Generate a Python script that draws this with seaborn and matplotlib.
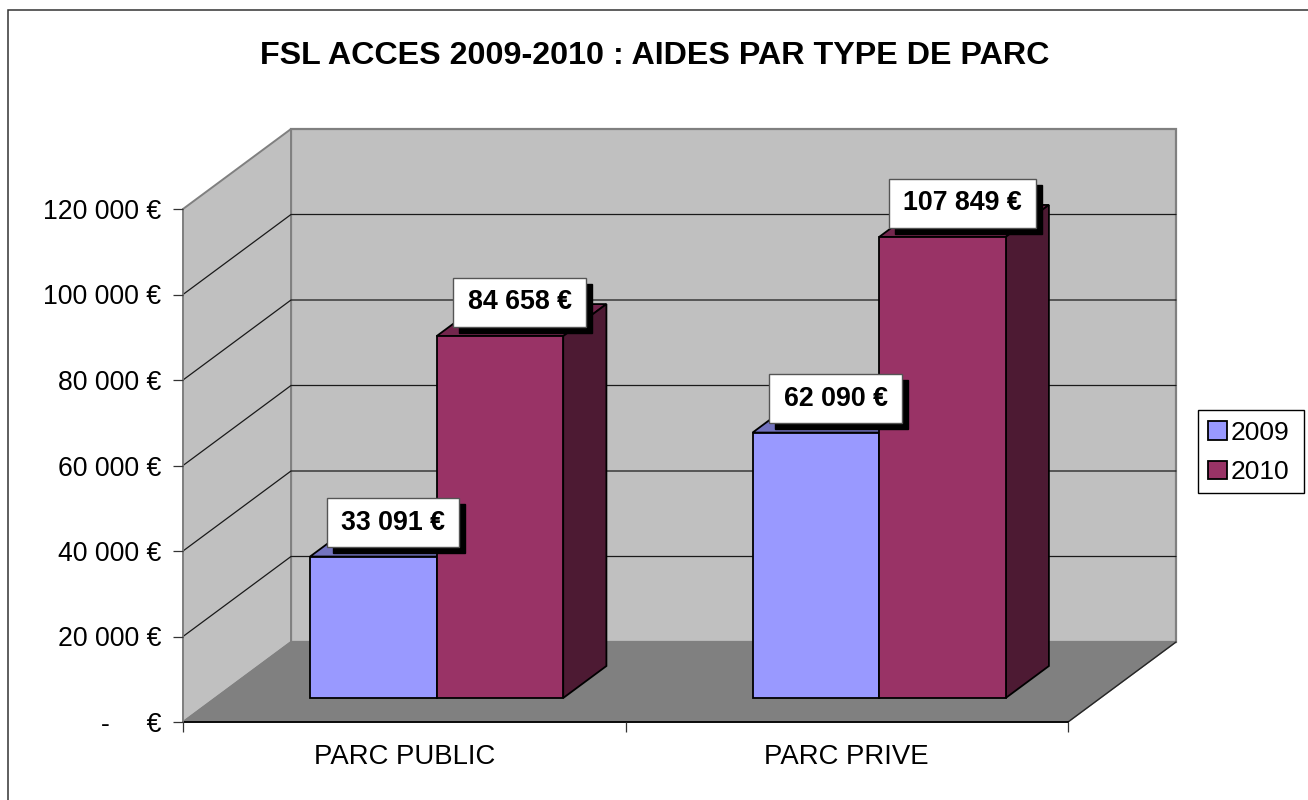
import pandas as pd
import matplotlib.pyplot as plt
import seaborn as sns
from matplotlib.lines import Line2D
from matplotlib.patches import Polygon, Rectangle, Patch
from matplotlib.transforms import IdentityTransform

# Donnees
parcs = ['PARC PUBLIC', 'PARC PRIVE']
annees = ['2009', '2010']
aides_2009 = [33091, 62090]
aides_2010 = [84658, 107849]
graduations = [0, 20000, 40000, 60000, 80000, 100000, 120000]

couleurs = {'2009': '#9999ff', '2010': '#993366'}
dessus = {'2009': '#7373bf', '2010': '#73264d'}
cotes = {'2009': '#4d4d80', '2010': '#4d1a33'}

df = pd.DataFrame({
    'parc': parcs * 2,
    'annee': ['2009'] * 2 + ['2010'] * 2,
    'aide': aides_2009 + aides_2010,
})


def euros(v):
    return f"{v:,}".replace(',', ' ') + ' €'


sns.set_style('white')
plt.rcParams['font.family'] = ['Liberation Sans', 'DejaVu Sans']
plt.rcParams['text.color'] = 'black'
plt.rcParams['xtick.labelcolor'] = 'black'
plt.rcParams['ytick.labelcolor'] = 'black'

W, H = 1308, 800
fig = plt.figure(figsize=(W / 100, H / 100), dpi=100)
ax = fig.add_axes([183 / W, 1 - 722 / H, 885 / W, 513 / H])
ax.set_xlim(-0.5, 1.5)
ax.set_ylim(0, 120000)

# profondeur de la perspective (unites des axes)
prof_x = 108 / 442.5
prof_y = 80 / 513 * 120000


def proj(x, v, d):
    return (x + d * prof_x, v + d * prof_y)


def poly(points, **kw):
    p = Polygon(points, closed=True, clip_on=False, **kw)
    ax.add_patch(p)
    return p


x0, x1 = ax.get_xlim()
ymax = graduations[-1]

# murs et sol
poly([proj(x0, 0, 1), proj(x1, 0, 1), proj(x1, ymax, 1), proj(x0, ymax, 1)],
     facecolor='#c0c0c0', edgecolor='#808080', linewidth=1.6, zorder=0.5)
poly([proj(x0, 0, 0), proj(x0, 0, 1), proj(x0, ymax, 1), proj(x0, ymax, 0)],
     facecolor='#c0c0c0', edgecolor='#808080', linewidth=1.4, zorder=0.6)
poly([proj(x0, 0, 0), proj(x1, 0, 0), proj(x1, 0, 1), proj(x0, 0, 1)],
     facecolor='#808080', edgecolor='#808080', linewidth=1, zorder=0.7)

# quadrillage
for v in graduations[1:-1]:
    a, b, c = proj(x0, v, 0), proj(x0, v, 1), proj(x1, v, 1)
    ax.add_line(Line2D([a[0], b[0], c[0]], [a[1], b[1], c[1]], color='#1a1a1a',
                       linewidth=0.9, zorder=0.8, clip_on=False))
a, b = proj(x1, 0, 0), proj(x1, 0, 1)
ax.add_line(Line2D([a[0], b[0]], [a[1], b[1]], color='#262626', linewidth=1,
                   zorder=0.9, clip_on=False))

# faces avant
sns.barplot(data=df, x='parc', y='aide', hue='annee', hue_order=annees, order=parcs,
            palette=couleurs, width=0.572, gap=0, saturation=1, edgecolor='black',
            linewidth=1.3, legend=False, ax=ax, zorder=3)
ax.set_xlim(x0, x1)
ax.set_ylim(0, ymax)

# decalage des barres dans la profondeur + dessus et cote
d_av, d_ar = 0.3, 0.7
barres = []
for patch, annee, aide in zip(ax.patches[3:], df['annee'], df['aide']):
    g = patch.get_x()
    l = patch.get_width()
    patch.set_x(g + d_av * prof_x)
    patch.set_y(d_av * prof_y)
    patch.set_clip_on(False)
    poly([proj(g, aide, d_av), proj(g + l, aide, d_av), proj(g + l, aide, d_ar), proj(g, aide, d_ar)],
         facecolor=dessus[annee], edgecolor='black', linewidth=1.3, zorder=2)
    poly([proj(g + l, 0, d_av), proj(g + l, 0, d_ar), proj(g + l, aide, d_ar), proj(g + l, aide, d_av)],
         facecolor=cotes[annee], edgecolor='black', linewidth=1.3, zorder=2)
    barres.append((patch, aide))

# axes
sns.despine(ax=ax, top=True, right=True)
ax.set_axisbelow(False)
ax.spines['left'].set_color('#808080')
ax.spines['left'].set_linewidth(1.2)
ax.spines['bottom'].set_color('black')
ax.spines['bottom'].set_linewidth(1.3)
ax.spines['bottom'].set_zorder(1)
ax.set_xlabel('')
ax.set_ylabel('')
ax.set_yticks(graduations)
ax.set_yticklabels(['-     €' if v == 0 else euros(v) for v in graduations])
ax.set_xticks([0, 1])
ax.set_xticklabels(parcs)
ax.set_xticks([-0.5, 0.5, 1.5], minor=True)
ax.tick_params(axis='y', length=7.2, width=0.9, color='#333333', pad=8.5, labelsize=19.2, left=True,
               labelcolor='black')
ax.tick_params(axis='x', which='major', length=0, pad=15.5, labelsize=19.8, bottom=False, labelcolor='black')
ax.tick_params(axis='x', which='minor', length=7.2, width=0.9, color='#333333', bottom=True)

# etiquettes de valeurs
fig.canvas.draw()
for patch, aide in barres:
    cx = patch.get_x() + patch.get_width() / 2
    t = ax.annotate(euros(aide), (cx, aide + d_av * prof_y), xytext=(14.2, 24.3), textcoords='offset points',
                    ha='center', va='center', fontsize=19.3, fontweight='bold', color='black',
                    zorder=6, annotation_clip=False)
    bb = t.get_window_extent(fig.canvas.get_renderer())
    cxp, cyp = (bb.x0 + bb.x1) / 2, (bb.y0 + bb.y1) / 2
    larg, haut = bb.width + 28.5, 49
    for dxy, fc, ec, z in [((6, -6), 'black', 'black', 4.5), ((0, 0), 'white', '#555555', 5)]:
        ax.add_patch(Rectangle((cxp - larg / 2 + dxy[0], cyp - haut / 2 + dxy[1]), larg, haut,
                               facecolor=fc, edgecolor=ec, linewidth=1, transform=IdentityTransform(),
                               clip_on=False, zorder=z))

# titre
fig.text(655 / W, 1 - 56.5 / H, 'FSL ACCES 2009-2010 : AIDES PAR TYPE DE PARC', ha='center', va='center',
         fontsize=23.2, fontweight='bold', color='black')

# legende : cadre a part, entrees sans cadre
fig.add_artist(Rectangle((1198 / W, 1 - 493 / H), 106 / W, 83 / H, transform=fig.transFigure,
                         facecolor='white', edgecolor='black', linewidth=1, zorder=-1))
poignees = [Patch(facecolor=couleurs[a], edgecolor='black', linewidth=1.3) for a in annees]
leg = ax.legend(poignees, annees, loc='upper left', bbox_to_anchor=(1208 / W, 1 - 421 / H),
                bbox_transform=fig.transFigure, fontsize=19, frameon=False, borderaxespad=0,
                borderpad=0, handlelength=0.72, handleheight=0.72, handletextpad=0.15, labelspacing=0.58)
leg.set_zorder(10)

# cadre exterieur
fig.add_artist(Rectangle((8.3 / W, -0.1), 1.2, 1.1 - 10 / H, transform=fig.transFigure,
                         facecolor='none', edgecolor='#333333', linewidth=1.1))

fig.savefig('out.png', dpi=100)
